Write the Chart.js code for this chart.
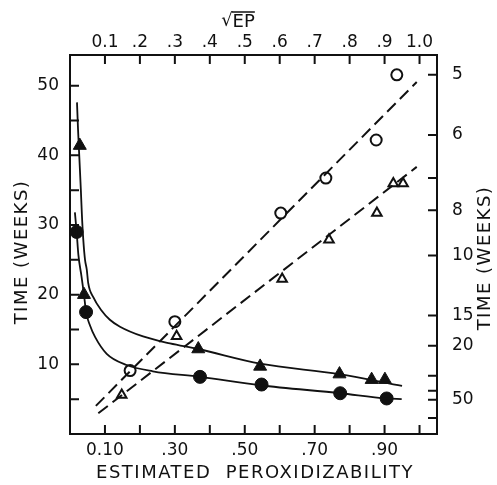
<!DOCTYPE html>
<html>
<head>
<meta charset="utf-8">
<script src="https://cdn.jsdelivr.net/npm/chart.js@4.4.1/dist/chart.umd.min.js"></script>
<style>
  html, body { margin: 0; padding: 0; background: #fff; }
  #wrap { width: 497px; height: 485px; }
</style>
</head>
<body>
<div id="wrap"><canvas id="grafico"></canvas></div>
<script>
// Filled symbols: time (weeks) vs estimated peroxidizability (bottom / left axes)
const triFilledEP    = [0.028, 0.040, 0.367, 0.544, 0.771, 0.863, 0.901];
const triFilledWeeks = [41.4, 20.0, 12.2, 9.7, 8.6, 7.8, 7.8];
const dotFilledEP    = [0.019, 0.046, 0.372, 0.548, 0.773, 0.906];
const dotFilledWeeks = [29.0, 17.5, 8.2, 7.1, 5.85, 5.1];

// Solid curves drawn through the filled symbols
const triCurveEP    = [0.020, 0.023, 0.027, 0.031, 0.034, 0.038, 0.043, 0.048, 0.052, 0.067, 0.089, 0.114, 0.143, 0.209, 0.286, 0.366, 0.544, 0.770, 0.950];
const triCurveWeeks = [47.6, 43.7, 39.4, 35.1, 31.5, 27.9, 25.0, 23.6, 21.7, 19.6, 17.8, 16.4, 15.4, 14.0, 13.0, 12.2, 10.1, 8.6, 6.9];
const dotCurveEP    = [0.014, 0.019, 0.024, 0.033, 0.040, 0.046, 0.057, 0.072, 0.105, 0.162, 0.237, 0.372, 0.544, 0.773, 0.906, 0.949];
const dotCurveWeeks = [31.8, 29.0, 25.7, 22.6, 20.0, 17.5, 15.6, 13.9, 11.5, 9.9, 9.0, 8.2, 7.0, 5.85, 5.1, 5.0];

// Open symbols: time (weeks, reciprocal scale) vs sqrt(EP) (top / right axes)
const dotOpenSqrtEP = [0.172, 0.300, 0.603, 0.732, 0.876, 0.935];
const dotOpenWeeks  = [27.6, 15.8, 8.1, 7.0, 6.1, 5.0];
const triOpenSqrtEP = [0.148, 0.305, 0.607, 0.741, 0.878, 0.925, 0.953];
const triOpenWeeks  = [44, 18.1, 11.5, 9.2, 8.1, 7.15, 7.15];

// Dashed fitted lines (end points)
const dotLineSqrtEP = [0.074, 0.992];
const dotLineWeeks  = [60, 5.1];
const triLineSqrtEP = [0.081, 0.992];
const triLineWeeks  = [79.6, 6.71];

// Axis ticks
const bottomTicks  = [0.1, 0.2, 0.3, 0.4, 0.5, 0.6, 0.7, 0.8, 0.9, 1.0];
const bottomLabels = ['0.10', '', '.30', '', '.50', '', '.70', '', '.90', ''];
const topTicks     = [0.1, 0.2, 0.3, 0.4, 0.5, 0.6, 0.7, 0.8, 0.9, 1.0];
const topLabels    = ['0.1', '.2', '.3', '.4', '.5', '.6', '.7', '.8', '.9', '1.0'];
const leftTicks    = [5, 10, 15, 20, 25, 30, 35, 40, 45, 50];
const leftLabels   = ['', '10', '', '20', '', '30', '', '40', '', '50'];
const rightWeeks   = [5, 6, 7, 8, 10, 15, 20, 30, 40, 50, 100];
const rightLabels  = ['5', '6', '', '8', '10', '15', '20', '', '', '50', ''];

const INK  = '#111';
const FONT = 'DejaVu Sans';

const pts = (xs, ys) => xs.map((x, i) => ({ x: x, y: ys[i] }));
const ptsRecip = (xs, ws) => xs.map((x, i) => ({ x: x, y: 1 / ws[i] }));
const fixTicks = vals => scale => { scale.ticks = vals.map(v => ({ value: v })); };

// ticks pointing into the plot + axis titles
const frameExtras = {
    id: 'frameExtras',
    afterDraw(chart) {
        const { ctx, chartArea: a, scales } = chart;
        const L = 9;
        ctx.save();
        ctx.strokeStyle = INK;
        ctx.lineWidth = 2;
        ctx.beginPath();
        scales.x.ticks.forEach(t => { const p = scales.x.getPixelForValue(t.value); ctx.moveTo(p, a.bottom); ctx.lineTo(p, a.bottom - L); });
        scales.x2.ticks.forEach(t => { const p = scales.x2.getPixelForValue(t.value); ctx.moveTo(p, a.top); ctx.lineTo(p, a.top + L); });
        scales.y.ticks.forEach(t => { const p = scales.y.getPixelForValue(t.value); ctx.moveTo(a.left, p); ctx.lineTo(a.left + L, p); });
        scales.y2.ticks.forEach(t => { const p = scales.y2.getPixelForValue(t.value); ctx.moveTo(a.right, p); ctx.lineTo(a.right - L, p); });
        ctx.stroke();

        ctx.fillStyle = INK;
        ctx.font = '18px "' + FONT + '"';
        ctx.letterSpacing = '1.5px';
        ctx.textAlign = 'center';
        ctx.textBaseline = 'middle';
        ctx.fillText('ESTIMATED  PEROXIDIZABILITY', 255, 473);

        // left title
        ctx.save();
        ctx.translate(22, 252);
        ctx.rotate(-Math.PI / 2);
        ctx.fillText('TIME (WEEKS)', 0, 0);
        ctx.restore();
        // right title
        ctx.save();
        ctx.translate(485, 258);
        ctx.rotate(-Math.PI / 2);
        ctx.fillText('TIME (WEEKS)', 0, 0);
        ctx.restore();

        // sqrt(EP) top title
        ctx.letterSpacing = '0px';
        ctx.textAlign = 'left';
        ctx.font = '18px "' + FONT + '"';
        const rad = '\u221A';
        const w1 = ctx.measureText(rad).width;
        const w2 = ctx.measureText('EP').width;
        const x0 = 238 - (w1 + w2) / 2;
        ctx.fillText(rad, x0, 21);
        ctx.fillText('EP', x0 + w1, 22);
        ctx.lineWidth = 1.5;
        ctx.beginPath();
        ctx.moveTo(x0 + w1 - 1, 12);
        ctx.lineTo(x0 + w1 + w2, 12);
        ctx.stroke();
        ctx.restore();
    }
};

const tickFont = { family: FONT, size: 17 };

new Chart(document.getElementById('grafico'), {
    type: 'scatter',
    data: {
        datasets: [
            { data: pts(triCurveEP, triCurveWeeks), showLine: true, pointRadius: 0, borderColor: INK, borderWidth: 1.8, cubicInterpolationMode: 'monotone', xAxisID: 'x', yAxisID: 'y' },
            { data: pts(dotCurveEP, dotCurveWeeks), showLine: true, pointRadius: 0, borderColor: INK, borderWidth: 1.8, cubicInterpolationMode: 'monotone', xAxisID: 'x', yAxisID: 'y' },
            { data: ptsRecip(dotLineSqrtEP, dotLineWeeks), showLine: true, pointRadius: 0, borderColor: INK, borderWidth: 2, borderDash: [12, 6], xAxisID: 'x2', yAxisID: 'y2' },
            { data: ptsRecip(triLineSqrtEP, triLineWeeks), showLine: true, pointRadius: 0, borderColor: INK, borderWidth: 2, borderDash: [12, 6], xAxisID: 'x2', yAxisID: 'y2' },
            { data: pts(triFilledEP, triFilledWeeks), pointStyle: 'triangle', pointRadius: 7.5, backgroundColor: INK, borderColor: INK, borderWidth: 1, xAxisID: 'x', yAxisID: 'y' },
            { data: pts(dotFilledEP, dotFilledWeeks), pointStyle: 'circle', pointRadius: 6.5, backgroundColor: INK, borderColor: INK, borderWidth: 1, xAxisID: 'x', yAxisID: 'y' },
            { data: ptsRecip(dotOpenSqrtEP, dotOpenWeeks), pointStyle: 'circle', pointRadius: 5.5, backgroundColor: '#fff', borderColor: INK, borderWidth: 2, xAxisID: 'x2', yAxisID: 'y2' },
            { data: ptsRecip(triOpenSqrtEP, triOpenWeeks), pointStyle: 'triangle', pointRadius: 5.5, backgroundColor: '#fff', borderColor: INK, borderWidth: 2, xAxisID: 'x2', yAxisID: 'y2' }
        ]
    },
    options: {
        responsive: true,
        maintainAspectRatio: false,
        animation: false,
        layout: { padding: 0 },
        plugins: { legend: { display: false }, tooltip: { enabled: false } },
        scales: {
            x: {
                type: 'linear', position: 'bottom', min: 0, max: 1.05,
                afterBuildTicks: fixTicks(bottomTicks),
                afterFit: s => { s.height = 51; },
                grid: { display: false, drawTicks: false },
                border: { display: true, color: INK, width: 2 },
                ticks: { color: INK, font: tickFont, padding: 6, maxRotation: 0, autoSkip: false, callback: (v, i) => bottomLabels[i] }
            },
            x2: {
                type: 'linear', position: 'top', min: 0, max: 1.05,
                afterBuildTicks: fixTicks(topTicks),
                afterFit: s => { s.height = 55; },
                grid: { display: false, drawTicks: false },
                border: { display: true, color: INK, width: 2 },
                ticks: { color: INK, font: tickFont, padding: 2, maxRotation: 0, autoSkip: false, callback: (v, i) => topLabels[i] }
            },
            y: {
                type: 'linear', position: 'left', min: 0, max: 54.4,
                afterBuildTicks: fixTicks(leftTicks),
                afterFit: s => { s.width = 70; },
                grid: { display: false, drawTicks: false },
                border: { display: true, color: INK, width: 2 },
                ticks: { color: INK, font: tickFont, padding: 11, autoSkip: false, callback: (v, i) => leftLabels[i] }
            },
            y2: {
                type: 'linear', position: 'right', min: 0.0011, max: 0.211,
                afterBuildTicks: fixTicks(rightWeeks.map(w => 1 / w)),
                afterFit: s => { s.width = 60; },
                grid: { display: false, drawTicks: false },
                border: { display: true, color: INK, width: 2 },
                ticks: { color: INK, font: tickFont, padding: 15, autoSkip: false, callback: (v, i) => rightLabels[i] }
            }
        }
    },
    plugins: [frameExtras]
});
</script>
</body>
</html>
